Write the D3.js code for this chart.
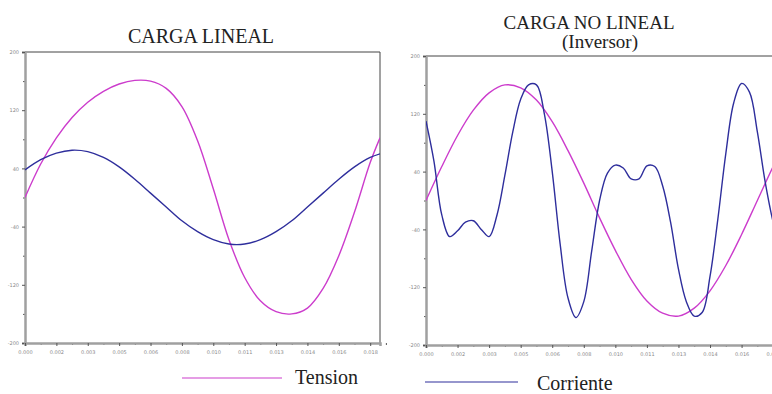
<!DOCTYPE html>
<html>
<head>
<meta charset="utf-8">
<script src="https://cdn.jsdelivr.net/npm/d3@7"></script>
<style>
  body { margin: 0; background: #fff; }
  svg { display: block; }
  .tick text { font-family: "DejaVu Sans", sans-serif; font-size: 5px; fill: #8a8a8a; }
</style>
</head>
<body>
<svg id="chart" width="772" height="394"></svg>
<script>
// tick values
const timeTicks = [0, 0.0016, 0.0032, 0.0048, 0.0064, 0.0080, 0.0096, 0.0112, 0.0128, 0.0144, 0.0160, 0.0176];
const valueTicks = [200, 120, 40, -40, -120, -200];

// CARGA LINEAL
const linealTime = [0, 0.0008, 0.0016, 0.0024, 0.0032, 0.0040, 0.0048, 0.0056, 0.0064, 0.0072, 0.0080, 0.0088,
  0.0096, 0.0104, 0.0112, 0.0120, 0.0128, 0.0136, 0.0144, 0.0152, 0.0160, 0.0168, 0.0176, 0.0181];
const linealTension = [0, 46, 82, 110, 131, 146, 156, 161, 160, 150, 125, 78,
  12, -58, -110, -142, -157, -160, -152, -125, -80, -20, 48, 82];
const linealCorriente = [38, 52, 61, 65, 63, 55, 42, 25, 6, -13, -32, -47,
  -58, -64, -64, -58, -47, -32, -13, 6, 25, 42, 55, 60];

// CARGA NO LINEAL (Inversor)
const noLinealTime = [0, 0.0008, 0.0016, 0.0024, 0.0032, 0.0040, 0.0048, 0.0056, 0.0064, 0.0072, 0.0080, 0.0088,
  0.0096, 0.0104, 0.0112, 0.0120, 0.0128, 0.0136, 0.0144, 0.0152, 0.0160, 0.0168, 0.0176, 0.0181];
const noLinealTension = [0, 47, 90, 125, 149, 160, 156, 139, 109, 69, 24, -24,
  -69, -109, -139, -156, -160, -149, -125, -90, -47, 0, 47, 74];
const corrienteTime = [0, 0.0004, 0.0008, 0.0012, 0.0016, 0.0020, 0.0024, 0.0028, 0.0032, 0.0036, 0.0040, 0.0044,
  0.0048, 0.0052, 0.0056, 0.0060, 0.0064, 0.0068, 0.0072, 0.0076, 0.0080, 0.0084, 0.0088, 0.0092,
  0.0096, 0.0100, 0.0104, 0.0108, 0.0112, 0.0116, 0.0120, 0.0124, 0.0128, 0.0132, 0.0136, 0.0140,
  0.0144, 0.0148, 0.0152, 0.0156, 0.0160, 0.0164, 0.0168, 0.0172, 0.0176, 0.0180];
const noLinealCorriente = [110, 55, -20, -50, -42, -30, -28, -40, -50, -20, 35, 95,
  140, 160, 160, 120, 40, -60, -135, -162, -140, -70, 0, 38,
  49, 45, 30, 30, 48, 47, 20, -30, -95, -140, -160, -155,
  -105, -25, 65, 135, 162, 150, 95, 25, -30, -70];

const MAGENTA = '#cc3ccc';
const BLUE = '#2e2e9c';

const svg = d3.select('#chart');

function drawPanel(p) {
  const x = d3.scaleLinear().domain([0, 0.0181]).range([p.left, p.right]);
  const y = d3.scaleLinear().domain([-200, 200]).range([p.bottom, p.top]);
  const g = svg.append('g');

  // clip
  const clipId = 'clip-' + p.id;
  svg.append('defs').append('clipPath').attr('id', clipId)
    .append('rect')
    .attr('x', p.left).attr('y', p.top)
    .attr('width', p.right - p.left).attr('height', p.bottom - p.top);

  // frame top + right
  g.append('line').attr('x1', p.left).attr('x2', p.right).attr('y1', p.top).attr('y2', p.top)
    .attr('stroke', '#444').attr('stroke-width', 1);
  g.append('line').attr('x1', p.right).attr('x2', p.right).attr('y1', p.top).attr('y2', p.bottom)
    .attr('stroke', '#444').attr('stroke-width', 1);

  // minor ticks
  const minorY = d3.range(-160, 200, 80);
  g.append('g').attr('transform', `translate(${p.left},0)`)
    .call(d3.axisLeft(y).tickValues(minorY).tickSize(2).tickFormat(''))
    .call(a => a.select('.domain').remove())
    .selectAll('line').attr('stroke', '#555');
  const minorX = timeTicks.map(t => t + 0.0008);
  g.append('g').attr('transform', `translate(0,${p.bottom})`)
    .call(d3.axisBottom(x).tickValues(minorX).tickSize(2).tickFormat(''))
    .call(a => a.select('.domain').remove())
    .selectAll('line').attr('stroke', '#555');

  // axes
  const yAxis = g.append('g').attr('transform', `translate(${p.left},0)`)
    .call(d3.axisLeft(y).tickValues(valueTicks).tickSize(3).tickPadding(3).tickFormat(d => String(d)));
  const xAxis = g.append('g').attr('transform', `translate(0,${p.bottom})`)
    .call(d3.axisBottom(x).tickValues(timeTicks).tickSize(3).tickPadding(4).tickFormat(d3.format('.3f')));
  [yAxis, xAxis].forEach(a => {
    a.select('.domain').attr('stroke', '#a0a0a0').attr('stroke-width', 2.5);
    a.selectAll('.tick line').attr('stroke', '#555');
  });

  const line = d3.line()
    .x(d => x(d[0])).y(d => y(d[1]))
    .curve(d3.curveCatmullRom.alpha(0.5));

  const plot = g.append('g').attr('clip-path', `url(#${clipId})`);
  p.series.forEach(s => {
    plot.append('path')
      .datum(d3.zip(s.time, s.values))
      .attr('fill', 'none')
      .attr('stroke', s.color)
      .attr('stroke-width', 1.4)
      .attr('d', line);
  });
}

drawPanel({
  id: 'lineal', left: 25, right: 380, top: 52, bottom: 343,
  series: [
    { time: linealTime, values: linealTension, color: MAGENTA },
    { time: linealTime, values: linealCorriente, color: BLUE }
  ]
});
drawPanel({
  id: 'nolineal', left: 426, right: 783, top: 56, bottom: 345,
  series: [
    { time: noLinealTime, values: noLinealTension, color: MAGENTA },
    { time: corrienteTime, values: noLinealCorriente, color: BLUE }
  ]
});

// titles
const serif = '"Liberation Serif", "Times New Roman", serif';
svg.append('text').attr('x', 201).attr('y', 43).attr('text-anchor', 'middle')
  .attr('font-family', serif).attr('font-size', 20).attr('fill', '#222').text('CARGA LINEAL');
svg.append('text').attr('x', 589).attr('y', 29).attr('text-anchor', 'middle')
  .attr('font-family', serif).attr('font-size', 19).attr('fill', '#222').text('CARGA NO LINEAL');
svg.append('text').attr('x', 600).attr('y', 48).attr('text-anchor', 'middle')
  .attr('font-family', serif).attr('font-size', 19).attr('fill', '#222').text('(Inversor)');

// legends
svg.append('line').attr('x1', 182).attr('x2', 282).attr('y1', 378).attr('y2', 378)
  .attr('stroke', MAGENTA).attr('stroke-width', 1.2);
svg.append('text').attr('x', 295).attr('y', 384)
  .attr('font-family', serif).attr('font-size', 20).attr('fill', '#222').text('Tension');
svg.append('line').attr('x1', 425).attr('x2', 518).attr('y1', 382).attr('y2', 382)
  .attr('stroke', BLUE).attr('stroke-width', 1.2);
svg.append('text').attr('x', 537).attr('y', 390)
  .attr('font-family', serif).attr('font-size', 20).attr('fill', '#222').text('Corriente');
</script>
</body>
</html>
